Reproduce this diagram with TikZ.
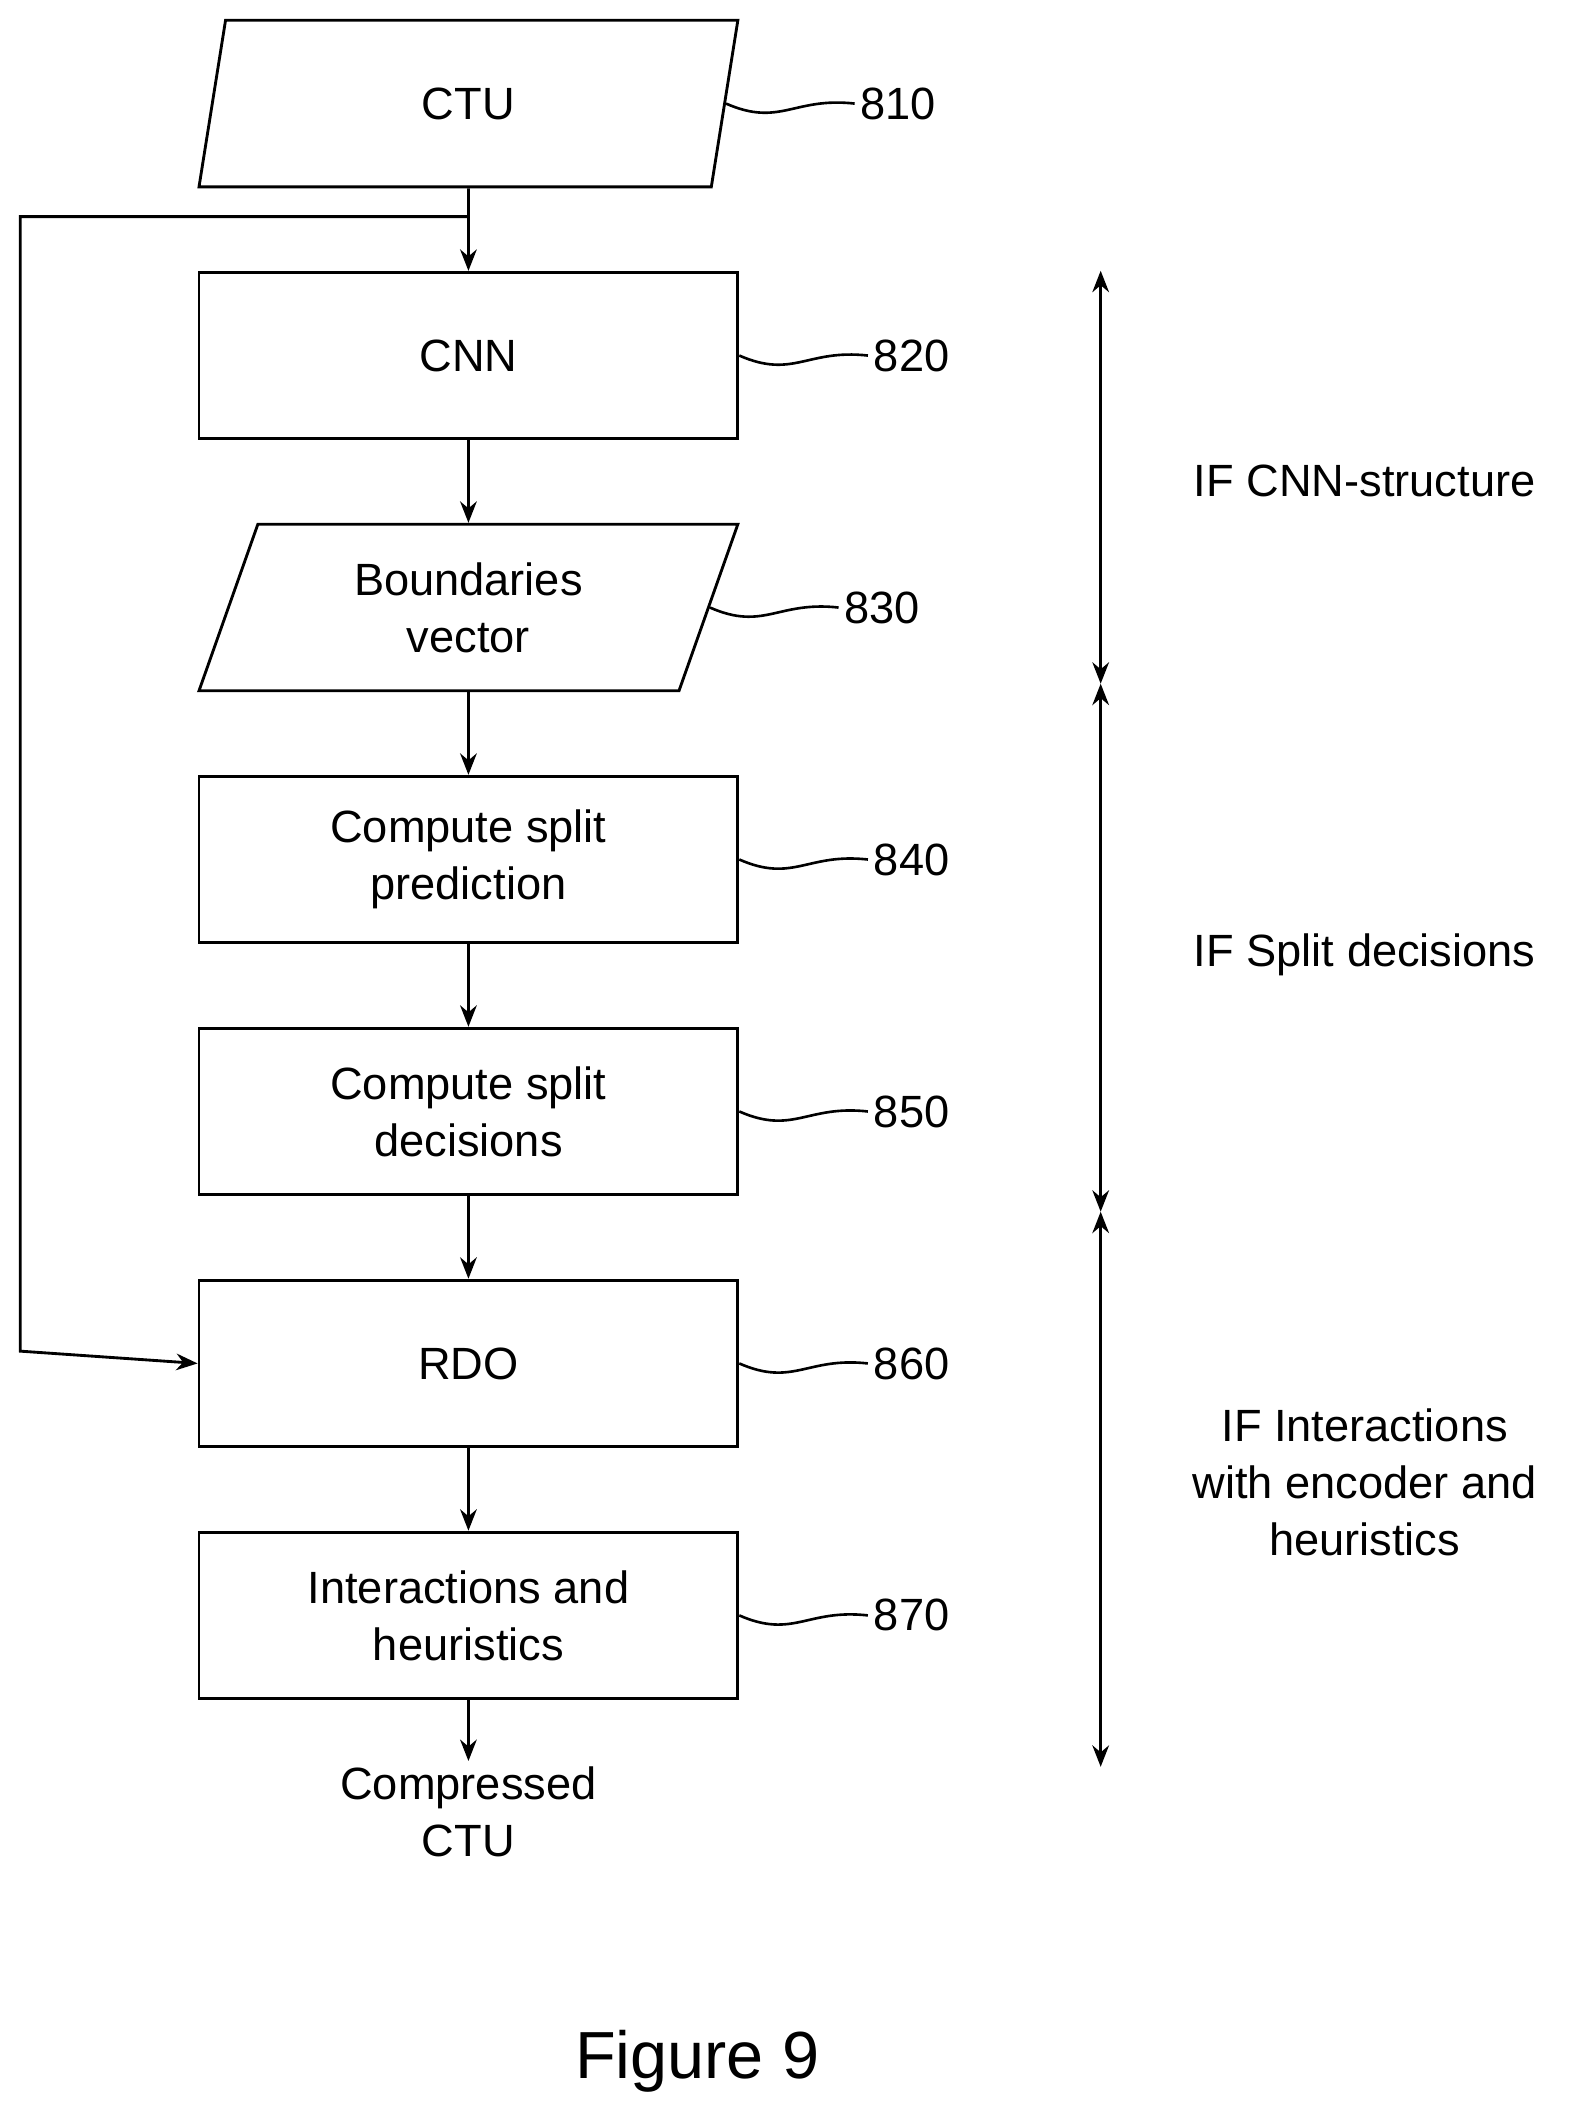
\documentclass[tikz,border=0pt]{standalone}
\usepackage{fontspec}
\setmainfont{Liberation Sans}
\usetikzlibrary{shapes.geometric,arrows.meta,positioning}

\begin{document}
\begin{tikzpicture}[node distance=1.22cm, auto, font=\fontsize{19}{24}\selectfont,
    box/.style={draw, line width=1.2pt, rectangle, minimum width=7.96cm, minimum height=2.46cm, align=center},
    io/.style={draw, line width=1.2pt, trapezium, trapezium left angle=61, trapezium right angle=119,
        trapezium stretches body, minimum width=7.96cm, minimum height=2.46cm, align=center},
    flow/.style={-{Stealth[length=9pt,width=7pt]}, line width=1.2pt},
    span/.style={{Stealth[length=9pt,width=7pt]}-{Stealth[length=9pt,width=7pt]}, line width=1.2pt},
    squig/.style={line width=1.1pt}]
    \useasboundingbox (0,0) rectangle (23.3,-31.2);

    % Nodes
    \node[io] (ctu) at (6.92,-1.53) {CTU};
    \node[box, below=of ctu] (cnn) {CNN};
    \node[io, below=of cnn] (bvec) {Boundaries\\vector};
    \node[box, below=of bvec] (pred) {Compute split\\prediction};
    \node[box, below=of pred] (dec) {Compute split\\decisions};
    \node[box, below=of dec] (rdo) {RDO};
    \node[box, below=of rdo] (heur) {Interactions and\\heuristics};
    \node[below=0.9cm of heur, align=center, inner sep=2pt] (out) {Compressed\\CTU};

    % Arrows
    \draw[flow] (ctu) -- (cnn);
    \draw[flow] (cnn) -- (bvec);
    \draw[flow] (bvec) -- (pred);
    \draw[flow] (pred) -- (dec);
    \draw[flow] (dec) -- (rdo);
    \draw[flow] (rdo) -- (heur);
    \draw[flow] (heur) -- (out);
    \coordinate (split) at (6.92,-3.2);
    \draw[flow] (split) -| (0.3,-19.96) -- (rdo.west);

    % Reference numerals
    \foreach \n/\lab in {ctu/810, cnn/820, bvec/830, pred/840, dec/850, rdo/860, heur/870} {
        \draw[squig] (\n.east) .. controls +(0.8,-0.35) and +(-0.9,0.1) .. ++(1.9,0)
            node[right, inner sep=2pt] {\lab};
    }

    % Interface spans
    \coordinate (s0) at (16.26,-4.0);
    \coordinate (s1) at (16.26,-10.1);
    \coordinate (s2) at (16.26,-17.9);
    \coordinate (s3) at (16.26,-26.1);
    \draw[span] (s0) -- (s1);
    \draw[span] (s1) -- (s2);
    \draw[span] (s2) -- (s3);
    \node[align=center] (if1) at (20.16,-7.1) {IF CNN-structure};
    \node[align=center] (if2) at (20.16,-14.1) {IF Split decisions};
    \node[align=center] (if3) at (20.16,-21.9) {IF Interactions\\with encoder and\\heuristics};

    \node[font=\fontsize{28}{34}\selectfont] (fig) at (10.3,-30.45) {Figure 9};
\end{tikzpicture}
\end{document}
